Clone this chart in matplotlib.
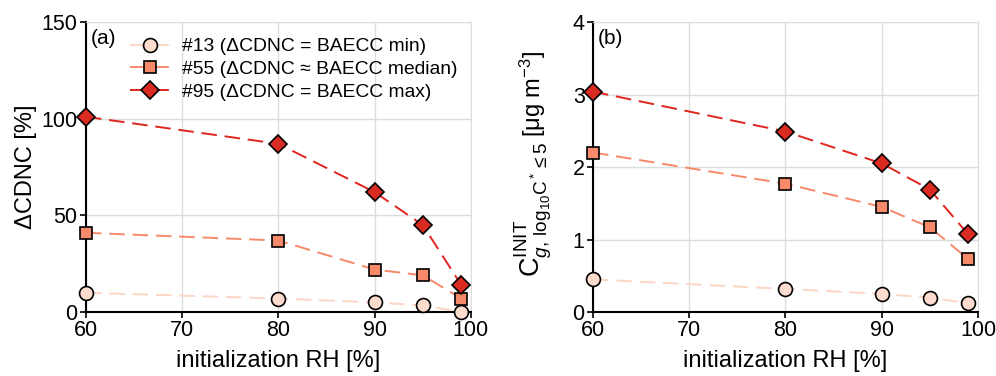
import numpy as np
import matplotlib.pyplot as plt

plt.rcParams['font.family'] = ['Liberation Sans', 'DejaVu Sans']
plt.rcParams['mathtext.fontset'] = 'custom'
plt.rcParams['mathtext.rm'] = 'Liberation Sans'
plt.rcParams['mathtext.it'] = 'Liberation Sans:italic'
plt.rcParams['font.size'] = 15

# data
rh = [60, 80, 90, 95, 99]
labels = ['#13 (ΔCDNC = BAECC min)', '#55 (ΔCDNC ≈ BAECC median)', '#95 (ΔCDNC = BAECC max)']
dcdnc_13 = [10, 7, 5, 3.5, 0]
dcdnc_55 = [41, 37, 22, 19, 7]
dcdnc_95 = [101, 87, 62, 45, 14]
cg_13 = [0.45, 0.32, 0.25, 0.2, 0.12]
cg_55 = [2.2, 1.77, 1.45, 1.17, 0.73]
cg_95 = [3.04, 2.49, 2.05, 1.69, 1.07]

fills = ['#fddcce', '#f88a6c', '#d92b22']
lines = ['#fcd5c5', '#f7896a', '#e0251f']
markers = ['o', 's', 'D']
msizes = [10, 9, 9.5]

fig = plt.figure(figsize=(9.96, 3.76), dpi=100)
ax1 = fig.add_axes([0.0863, 0.170, 0.3865, 0.7715])
ax2 = fig.add_axes([0.5954, 0.170, 0.3865, 0.7715])


def draw(ax, series):
    for i, y in enumerate(series):
        ax.plot(rh, y, color=lines[i], ls=(0, (8, 4)), lw=1.4,
                marker=markers[i], ms=msizes[i], mfc=fills[i], mec='black',
                mew=1.2, label=labels[i], clip_on=False, zorder=3 + i)
    ax.set_xlim(60, 100)
    ax.set_xticks([60, 70, 80, 90, 100])
    ax.grid(True, color='#dddddd', lw=1)
    ax.set_axisbelow(True)
    for s in ['top', 'right']:
        ax.spines[s].set_color('#dddddd')
    for s in ['left', 'bottom']:
        ax.spines[s].set_linewidth(1.5)
    ax.tick_params(direction='out', length=4, width=1.2, pad=2, labelsize=15.5)
    ax.set_xlabel('initialization RH [%]', labelpad=6, fontsize=17)


draw(ax1, [dcdnc_13, dcdnc_55, dcdnc_95])
ax1.set_ylim(0, 150)
ax1.set_yticks([0, 50, 100, 150])
ax1.set_ylabel('ΔCDNC [%]', labelpad=3, fontsize=17)
ax1.text(0.012, 0.975, '(a)', transform=ax1.transAxes, va='top', ha='left', fontsize=15)
ax1.legend(loc='upper right', frameon=False, fontsize=13.9, handlelength=2.1,
           handletextpad=0.6, labelspacing=0.27, borderaxespad=0.2,
           bbox_to_anchor=(0.995, 0.985))

draw(ax2, [cg_13, cg_55, cg_95])
ax2.set_ylim(0, 4)
ax2.set_yticks([0, 1, 2, 3, 4])
# y label of (b) in two pieces: symbol with big subscripts, then the unit
ax2.text(-0.136, 0.12, r'$\mathregular{C^{INIT}_{\mathit{g},\,log_{10}C^*\leq5}}$',
         transform=ax2.transAxes, rotation=90, rotation_mode='anchor',
         ha='left', va='baseline', fontsize=19.5)
ax2.text(-0.136, 0.605, r'[μg m$^{-3}$]', transform=ax2.transAxes, rotation=90,
         rotation_mode='anchor', ha='left', va='baseline', fontsize=17)
ax2.text(0.012, 0.975, '(b)', transform=ax2.transAxes, va='top', ha='left', fontsize=15)

fig.savefig('out.png', dpi=100)
